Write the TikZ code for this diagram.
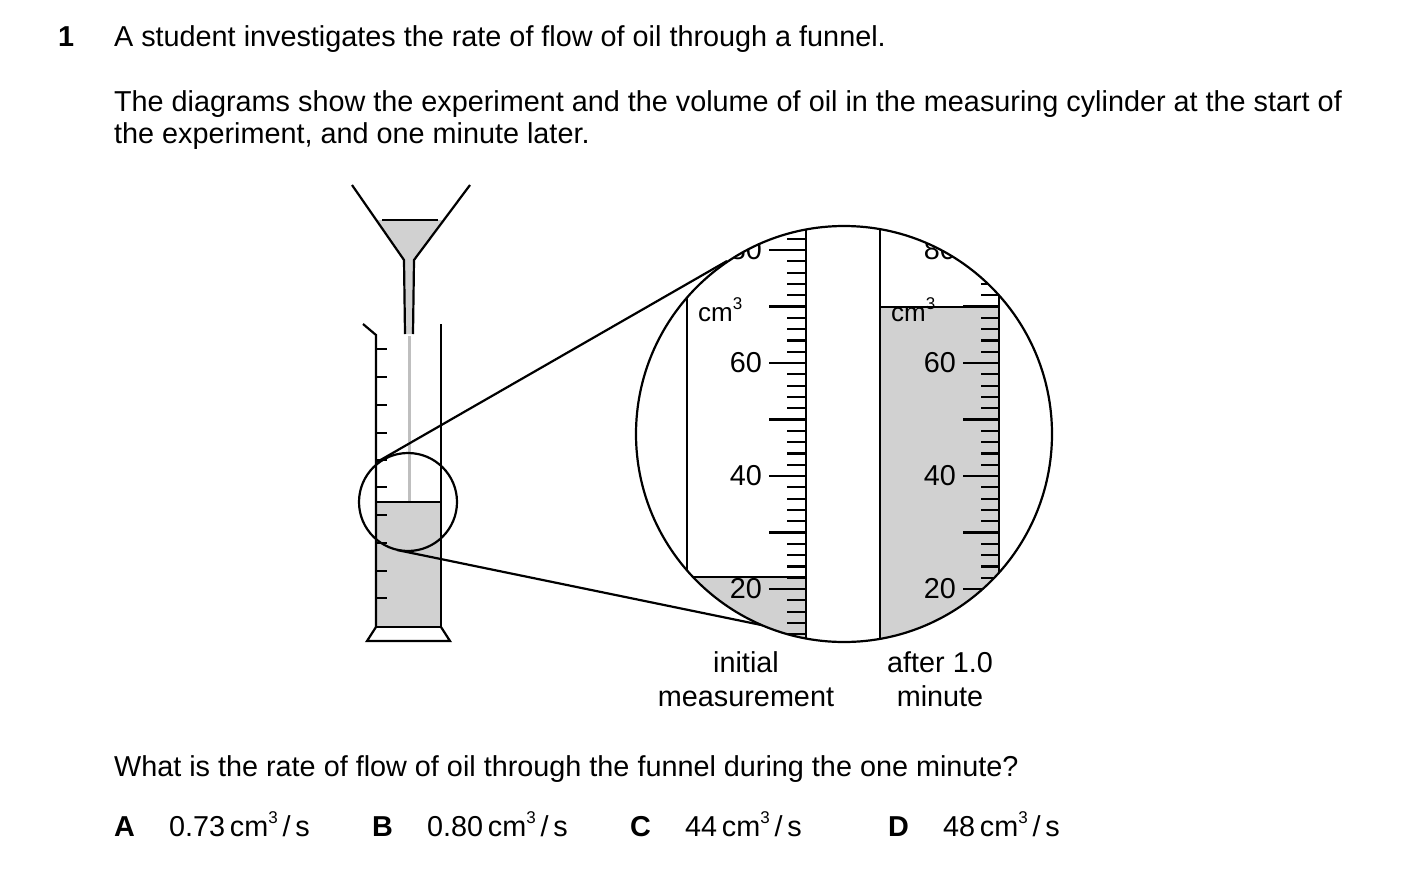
\documentclass[tikz,border=0pt]{standalone}
\usepackage{fontspec}
\setmainfont{Liberation Sans}
\newcommand{\cmc}{cm\raisebox{0.45em}{\fontsize{17}{18}\selectfont 3}}
\begin{document}
\begin{tikzpicture}[x=1pt,y=-1pt,line width=2.2pt,
  txt/.style={font=\fontsize{28.8}{32}\selectfont,inner sep=0pt},
  oil/.style={fill=black!18},
  lbl/.style={txt,anchor=east}]
\useasboundingbox (0,0) rectangle (1403,889);
% texts
\node[txt,anchor=base west,font=\fontsize{28.8}{32}\selectfont\bfseries] (n1) at (57,46) {1};
\node[txt,anchor=base west] (t1) at (113,46) {A student investigates the rate of flow of oil through a funnel.};
\node[txt,anchor=base west] (t2) at (113,111) {The diagrams show the experiment and the volume of oil in the measuring cylinder at the start of};
\node[txt,anchor=base west] (t3) at (113,143) {the experiment, and one minute later.};
\node[txt,anchor=base west] (q) at (113,776) {What is the rate of flow of oil through the funnel during the one minute?};
\foreach \L/\x/\v in {A/113/0.73,B/371/0.80,C/629/44,D/887/48}{
  \node[txt,anchor=base west,font=\fontsize{28.8}{32}\selectfont\bfseries] (o\L) at (\x,836) {\L};
  \node[txt,anchor=base west] (v\L) at (\x+55,836) {\v\,\cmc\,/\,s};
}
\node[txt,anchor=base] (i1) at (746,672) {initial};
\node[txt,anchor=base] (i2) at (746,706) {measurement};
\node[txt,anchor=base] (a1) at (940,672) {after 1.0};
\node[txt,anchor=base] (a2) at (940,706) {minute};
% funnel
\fill[black!18] (376,220) -- (444,220) -- (414,260) -- (413,334) -- (405,334) -- (404,260) -- cycle;
\draw (352,185) -- (404,260) -- (405,334);
\draw (470,185) -- (414,260) -- (413,334);
\draw (382,220) -- (438,220);
\draw[black!25,line width=3pt] (409,336) -- (409,502);
% cylinder
\fill[oil] (376,502) rectangle (441,627);
\draw (363,324) -- (376,335) -- (376,627);
\draw (441,324) -- (441,627);
\draw (376,502) -- (441,502);
\draw (376,627) -- (441,627);
\draw (376,627) -- (367,641) -- (450,641) -- (441,627);
\foreach \y in {349,377,405,433,460,487,515,543,571,598} \draw (376,\y) -- (387,\y);
% magnifier
\node[circle,draw,minimum size=98pt,inner sep=0pt] (sc) at (408,502) {};
\coordinate (u1) at (377,462); \coordinate (u2) at (727,261);
\coordinate (l1) at (397,550); \coordinate (l2) at (805,634);
\draw (u1) -- (u2);
\draw (l1) -- (l2);
\begin{scope}
\clip (844,434) circle (208);
\fill[white] (844,434) circle (208);
\fill[oil] (687,577) rectangle (806,660);
\fill[oil] (880,307) rectangle (999,660);
\draw (687,200) -- (687,577) -- (806,577);
\draw (806,200) -- (806,660);
\draw (880,200) -- (880,660);
\draw (880,307) -- (999,307);
\draw (999,200) -- (999,660);
\foreach \v in {10,12,...,90}{
  \pgfmathsetmacro{\yy}{589-(\v-20)*5.65}
  \draw (787,\yy) -- (806,\yy);
  \draw (981,\yy) -- (999,\yy);
}
\foreach \v in {10,20,...,90}{
  \pgfmathsetmacro{\yy}{589-(\v-20)*5.65}
  \draw (769,\yy) -- (806,\yy);
  \draw (963,\yy) -- (999,\yy);
}
\foreach \v in {20,40,60,80}{
  \pgfmathsetmacro{\yy}{589-(\v-20)*5.65}
  \node[lbl] at (763,\yy) {\v};
  \node[lbl] at (957,\yy) {\v};
}
\node[txt,anchor=west,font=\fontsize{26}{30}\selectfont] at (697,310) {\cmc};
\node[txt,anchor=west,font=\fontsize{26}{30}\selectfont] at (890,310) {\cmc};
\end{scope}
\node[circle,draw,minimum size=416pt,inner sep=0pt] (bc) at (844,434) {};
\end{tikzpicture}
\end{document}
